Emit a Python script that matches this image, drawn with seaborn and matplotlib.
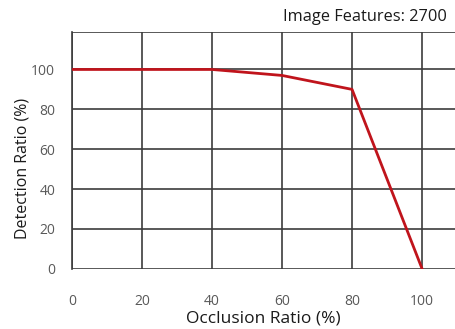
import matplotlib
matplotlib.use("Agg")
import matplotlib.pyplot as plt
import seaborn as sns
import pandas as pd

occlusion = [0, 20, 40, 60, 80, 100]
detection = [100, 100, 100, 97, 90, 0]
x_ticks = [0, 20, 40, 60, 80, 100]
y_ticks = [0, 20, 40, 60, 80, 100]

df = pd.DataFrame({"occlusion": occlusion, "detection": detection})

sns.set_style("white")
plt.rcParams['font.family'] = ['Open Sans', 'DejaVu Sans']

fig = plt.figure(figsize=(4.55, 3.29), dpi=100)
ax = fig.add_axes([0.158, 0.183, 0.842, 0.721])

sns.lineplot(data=df, x="occlusion", y="detection", color="#c0141c", linewidth=2, ax=ax, zorder=3)

ax.set_xlim(0, 109.4)
ax.set_ylim(0, 119)
ax.set_xticks(x_ticks)
ax.set_yticks(y_ticks)
ax.grid(True, color="#3c3c3c", linewidth=1.2)
ax.axhline(119, color="#3c3c3c", linewidth=1.2)
for s in ["top", "right", "bottom"]:
    ax.spines[s].set_visible(False)
ax.spines["left"].set_color("#3c3c3c")
ax.spines["left"].set_linewidth(1.2)

ax.tick_params(axis="x", pad=18, labelsize=10, labelcolor="#595959", length=0)
ax.tick_params(axis="y", pad=12, labelsize=10, labelcolor="#595959", length=0)

ax.set_xlabel("Occlusion Ratio (%)", fontsize=12.5, labelpad=1, color="#1a1a1a")
ax.set_ylabel("Detection Ratio (%)", fontsize=11.5, color="#1a1a1a")
ax.yaxis.set_label_coords(-0.108, 0.425)

fig.text(0.982, 0.948, "Image Features: 2700", ha="right", va="center", fontsize=11.8, color="#1a1a1a")

fig.savefig("out.png", dpi=100)
